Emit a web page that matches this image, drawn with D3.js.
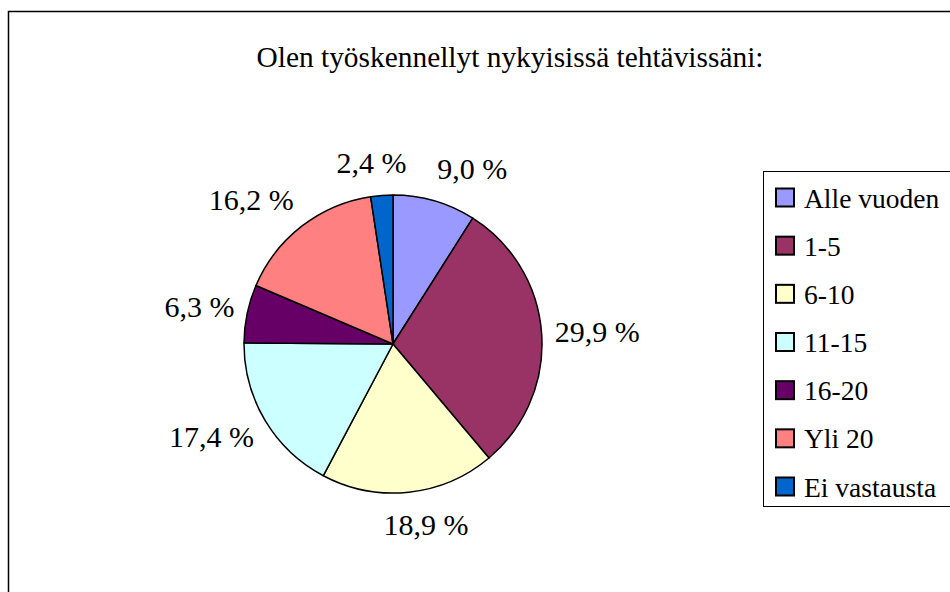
<!DOCTYPE html>
<html>
<head>
  <meta charset="utf-8">
  <title>Olen työskennellyt nykyisissä tehtävissäni</title>
  <script src="https://d3js.org/d3.v7.min.js"></script>
  <style>
    body { margin: 0; overflow: hidden; background: #fff; }
    svg { display: block; }
  </style>
</head>
<body>
  <svg width="950" height="592"></svg>

  <script>
    // data
    const categories = ["Alle vuoden", "1-5", "6-10", "11-15", "16-20", "Yli 20", "Ei vastausta"];
    const values = [9.0, 29.9, 18.9, 17.4, 6.3, 16.2, 2.4];
    const labels = ["9,0 %", "29,9 %", "18,9 %", "17,4 %", "6,3 %", "16,2 %", "2,4 %"];
    const colors = ["#9999FF", "#993366", "#FFFFCC", "#CCFFFF", "#660066", "#FF8080", "#0066CC"];
    const title = "Olen työskennellyt nykyisissä tehtävissäni:";

    const FONT = "'Liberation Serif', 'Times New Roman', Times, serif";

    const svg = d3.select("svg")
      .attr("font-family", FONT);

    // chart frame
    svg.append("rect")
      .attr("x", 8.5).attr("y", 11.5)
      .attr("width", 1000).attr("height", 700)
      .attr("fill", "#fff")
      .attr("stroke", "#000")
      .attr("stroke-width", 1.5);

    svg.append("text")
      .attr("x", 510).attr("y", 67)
      .attr("text-anchor", "middle")
      .attr("font-size", 29.4)
      .text(title);

    // pie
    const cx = 393, cy = 344, radius = 149;
    const g = svg.append("g").attr("transform", `translate(${cx},${cy})`);

    const pie = d3.pie().sort(null).value(d => d);
    const arcs = pie(values);
    const arc = d3.arc().innerRadius(0).outerRadius(radius);

    g.selectAll("path.slice")
      .data(arcs)
      .join("path")
      .attr("class", "slice")
      .attr("d", arc)
      .attr("fill", (d, i) => colors[i])
      .attr("stroke", "#000")
      .attr("stroke-width", 1.5)
      .attr("stroke-linejoin", "round");

    // labels outside end
    const gap = 13, halfH = 20;
    g.selectAll("text.lbl")
      .data(arcs)
      .join("text")
      .attr("class", "lbl")
      .attr("font-size", 30)
      .attr("text-anchor", "middle")
      .attr("dy", "0.34em")
      .text((d, i) => labels[i])
      .each(function (d) {
        const a = (d.startAngle + d.endAngle) / 2;
        const s = Math.sin(a), c = Math.cos(a);
        const w = this.getComputedTextLength();
        const sx = Math.max(-1, Math.min(1, s * 3.5));
        const px = (radius + gap) * s + sx * w / 2;
        const py = -(radius + gap) * c - c * halfH;
        d3.select(this).attr("x", px).attr("y", py);
      });

    // legend
    const legend = svg.append("g");
    legend.append("rect")
      .attr("x", 763.5).attr("y", 171.5)
      .attr("width", 300).attr("height", 335)
      .attr("fill", "#fff")
      .attr("stroke", "#000")
      .attr("stroke-width", 1);

    const ly = d3.scalePoint().domain(categories).range([198, 487]);

    const items = legend.selectAll("g.item")
      .data(categories)
      .join("g")
      .attr("class", "item")
      .attr("transform", d => `translate(0,${ly(d)})`);

    items.append("rect")
      .attr("x", 776).attr("y", -9.5)
      .attr("width", 18).attr("height", 18)
      .attr("fill", (d, i) => colors[i])
      .attr("stroke", "#000")
      .attr("stroke-width", 2);

    items.append("text")
      .attr("x", 804).attr("y", 9.5)
      .attr("font-size", 27.5)
      .text(d => d);
  </script>
</body>
</html>
